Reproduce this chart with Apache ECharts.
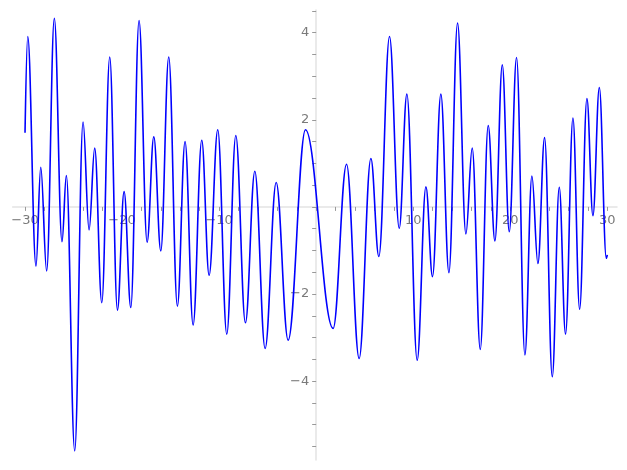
<!DOCTYPE html>
<html>
<head>
<meta charset="utf-8">
<script src="https://cdn.jsdelivr.net/npm/echarts@6/dist/echarts.min.js"></script>
<style>html,body{margin:0;padding:0;background:#fff}#c{width:627px;height:470px}</style>
</head>
<body>
<div id="c"></div>
<script>
// Curve samples (local extrema of the trace)
var xs = [-30, -29.72, -28.87, -28.38, -27.77, -26.98, -26.19, -25.74, -24.88, -24.02, -23.40, -22.82, -22.09, -21.27, -20.48, -19.79, -19.10, -18.25, -17.42, -16.73, -16.01, -15.19, -14.30, -13.51, -12.68, -11.79, -11.03, -10.14, -9.21, -8.28, -7.29, -6.32, -5.26, -4.12, -2.89, -1.10, 1.75, 3.13, 4.43, 5.64, 6.46, 7.56, 8.56, 9.35, 10.41, 11.31, 11.99, 12.85, 13.68, 14.57, 15.43, 16.08, 16.91, 17.73, 18.42, 19.18, 19.90, 20.65, 21.51, 22.23, 22.85, 23.54, 24.33, 25.05, 25.70, 26.46, 27.15, 27.90, 28.52, 29.18, 29.9, 30];
var ys = [1.70, 3.91, -1.36, 0.91, -1.47, 4.33, -0.80, 0.72, -5.60, 1.95, -0.53, 1.35, -2.20, 3.44, -2.37, 0.35, -2.31, 4.28, -0.81, 1.61, -1.01, 3.44, -2.28, 1.50, -2.71, 1.53, -1.57, 1.77, -2.92, 1.64, -2.66, 0.82, -3.25, 0.56, -3.06, 1.77, -2.79, 0.98, -3.48, 1.11, -1.14, 3.91, -0.49, 2.59, -3.52, 0.46, -1.60, 2.59, -1.51, 4.22, -0.62, 1.35, -3.27, 1.87, -0.78, 3.26, -0.57, 3.43, -3.40, 0.71, -1.30, 1.59, -3.90, 0.45, -2.92, 2.04, -2.35, 2.49, -0.20, 2.74, -1.18, -1.10];
var xTickValues = [-30,-28,-26,-24,-22,-20,-18,-16,-14,-12,-10,-8,-6,-4,-2,0,2,4,6,8,10,12,14,16,18,20,22,24,26,28,30];
var xLabelValues = [-30,-20,-10,10,20,30];
var yTickValues = [-5.5,-5,-4.5,-4,-3.5,-3,-2.5,-2,-1.5,-1,-0.5,0,0.5,1,1.5,2,2.5,3,3.5,4,4.5];
var yLabelValues = [-4,-2,2,4];

var X_MIN = -31.27, X_MAX = 31.0, Y_MIN = -5.81, Y_MAX = 4.52;
var G_LEFT = 12.7, G_RIGHT = 10, G_TOP = 10, G_BOTTOM = 10, W = 627, H = 470;
var zeroX = G_LEFT + (0 - X_MIN) / (X_MAX - X_MIN) * (W - G_LEFT - G_RIGHT);
var zeroY = G_TOP + (Y_MAX - 0) / (Y_MAX - Y_MIN) * (H - G_TOP - G_BOTTOM);

var pts = xs.map(function (x, i) { return [x, ys[i]]; });
function fmt(v) { return String(v).replace('-', '\u2212'); }
var lineCol = '#e3e3e3', tickCol = '#999999', labCol = '#7a7a7a';

var chart = echarts.init(document.getElementById('c'), null, {renderer: 'canvas'});
chart.setOption({
  animation: false,
  backgroundColor: '#ffffff',
  grid: [
    {left: G_LEFT, right: G_RIGHT, top: G_TOP, bottom: G_BOTTOM, containLabel: false, outerBoundsMode: 'none'},
    {left: G_LEFT, right: G_RIGHT, top: 0, height: zeroY, containLabel: false, outerBoundsMode: 'none'},
    {left: zeroX, right: 0, top: G_TOP, bottom: G_BOTTOM, containLabel: false, outerBoundsMode: 'none'}
  ],
  xAxis: [
    {type: 'value', gridIndex: 0, min: X_MIN, max: X_MAX, show: false},
    {
      type: 'value', gridIndex: 1, min: X_MIN, max: X_MAX, position: 'bottom',
      splitLine: {show: false},
      axisLine: {show: true, onZero: false, lineStyle: {color: lineCol, width: 1.5}},
      axisTick: {show: true, length: 4, customValues: xTickValues, lineStyle: {color: tickCol, width: 1}},
      axisLabel: {show: true, customValues: xLabelValues, formatter: fmt, color: labCol, fontSize: 13, fontFamily: 'DejaVu Sans', margin: 7}
    },
    {type: 'value', gridIndex: 2, min: 0, max: 1, show: false}
  ],
  yAxis: [
    {type: 'value', gridIndex: 0, min: Y_MIN, max: Y_MAX, show: false},
    {type: 'value', gridIndex: 1, min: 0, max: 1, show: false},
    {
      type: 'value', gridIndex: 2, min: Y_MIN, max: Y_MAX, position: 'left',
      splitLine: {show: false},
      axisLine: {show: true, onZero: false, lineStyle: {color: lineCol, width: 1.5}},
      axisTick: {show: true, length: 4, customValues: yTickValues, lineStyle: {color: tickCol, width: 1}},
      axisLabel: {show: true, customValues: yLabelValues, formatter: fmt, color: labCol, fontSize: 13, fontFamily: 'DejaVu Sans', margin: 7}
    }
  ],
  series: [{
    type: 'line',
    xAxisIndex: 0, yAxisIndex: 0,
    data: pts,
    showSymbol: false,
    smooth: 0.38,
    smoothMonotone: 'x',
    clip: false,
    lineStyle: {color: '#0000ff', width: 1.6}
  }]
});
</script>
</body>
</html>
